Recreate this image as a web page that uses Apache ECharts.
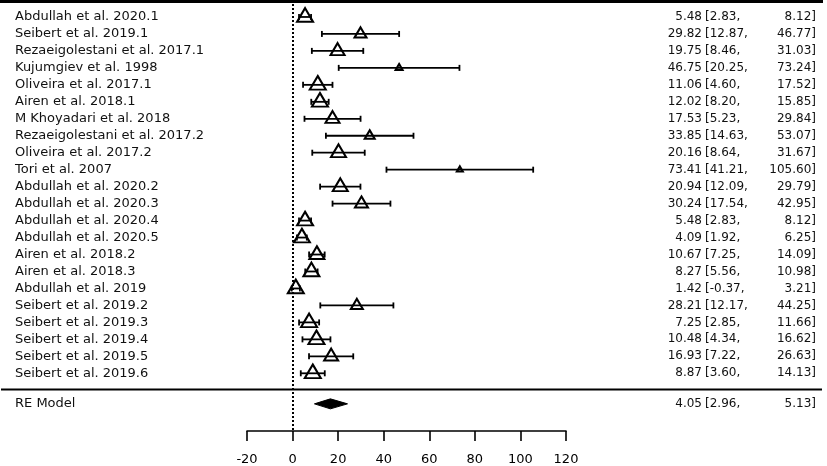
<!DOCTYPE html>
<html>
<head>
<meta charset="utf-8">
<script src="https://cdn.jsdelivr.net/npm/echarts@6/dist/echarts.min.js"></script>
<style>html,body{margin:0;padding:0;background:#fff}#c{width:827px;height:466px}</style>
</head>
<body>
<div id="c"></div>
<script>
var studies = ["Abdullah et al. 2020.1","Seibert et al. 2019.1","Rezaeigolestani et al. 2017.1","Kujumgiev et al. 1998","Oliveira et al. 2017.1","Airen et al. 2018.1","M Khoyadari et al. 2018","Rezaeigolestani et al. 2017.2","Oliveira et al. 2017.2","Tori et al. 2007","Abdullah et al. 2020.2","Abdullah et al. 2020.3","Abdullah et al. 2020.4","Abdullah et al. 2020.5","Airen et al. 2018.2","Airen et al. 2018.3","Abdullah et al. 2019","Seibert et al. 2019.2","Seibert et al. 2019.3","Seibert et al. 2019.4","Seibert et al. 2019.5","Seibert et al. 2019.6"];
var est   = [5.48,29.82,19.75,46.75,11.06,12.02,17.53,33.85,20.16,73.41,20.94,30.24,5.48,4.09,10.67,8.27,1.42,28.21,7.25,10.48,16.93,8.87];
var lower = [2.83,12.87,8.46,20.25,4.60,8.20,5.23,14.63,8.64,41.21,12.09,17.54,2.83,1.92,7.25,5.56,-0.37,12.17,2.85,4.34,7.22,3.60];
var upper = [8.12,46.77,31.03,73.24,17.52,15.85,29.84,53.07,31.67,105.60,29.79,42.95,8.12,6.25,14.09,10.98,3.21,44.25,11.66,16.62,26.63,14.13];
var weightSize = [16,12,14,7,16,16,14,10,15,6,15,13,16,16,15,16,16,12,16,16,14,16];
var reLabel = "RE Model";
var reText = [4.05, 2.96, 5.13];          // printed estimate [lower, upper]
var reDiamond = [9.6, 16.6, 24.1];        // diamond as drawn in the figure
var xTicks = [-20, 120, 20];              // min, max, interval

var reRow = 23, reDrawRow = 22.8;
var FONT = "DejaVu Sans";

var chart = echarts.init(document.getElementById('c'), null, {renderer:'canvas'});

function fmt(v){ return v.toFixed(2); }
function rowIdx(v){ var r = Math.round(v); return Math.abs(r - v) < 1e-6 ? r : null; }

var ciData = studies.map(function(s,i){ return [lower[i], upper[i], i]; });
var ptData = studies.map(function(s,i){ return [est[i], i, weightSize[i]]; });

function yAxisFor(position, margin, align, fontSize, textFn){
  return {
    type:'value', inverse:true, min:-1, max:24.4, interval:1, position:position,
    axisLine:{show:false}, axisTick:{show:false}, splitLine:{show:false},
    axisLabel:{
      align:align, margin:margin, color:'#111', fontFamily:FONT, fontSize:fontSize,
      formatter:function(v){
        var r = rowIdx(v);
        if (r === null) return '';
        if (r >= 0 && r < studies.length) return textFn(r, false);
        if (r === reRow) return '{re|' + textFn(r, true) + '}';
        return '';
      },
      rich:{re:{fontFamily:FONT, fontSize:fontSize, color:'#111', padding:[0,0,7,0]}}
    }
  };
}

var option = {
  animation:false,
  backgroundColor:'#fff',
  grid:{left:247, right:261, top:0, bottom:35, containLabel:false},
  xAxis:{
    type:'value', min:xTicks[0], max:xTicks[1], interval:xTicks[2],
    axisLine:{show:true, onZero:false, lineStyle:{color:'#000', width:1.6}},
    axisTick:{show:true, inside:false, length:10, lineStyle:{color:'#000', width:1.6}},
    axisLabel:{color:'#000', fontFamily:FONT, fontSize:13, margin:22},
    splitLine:{show:false}
  },
  yAxis:[
    yAxisFor('left', 232, 'left', 13, function(r, re){ return re ? reLabel : studies[r]; }),
    yAxisFor('right', 136, 'right', 12, function(r, re){ return fmt(re ? reText[0] : est[r]); }),
    yAxisFor('right', 139, 'left', 12, function(r, re){ return '[' + fmt(re ? reText[1] : lower[r]) + ','; }),
    yAxisFor('right', 250, 'right', 12, function(r, re){ return fmt(re ? reText[2] : upper[r]) + ']'; })
  ],
  series:[
    {
      type:'scatter', name:'est', data:ptData, z:3,
      symbol:'triangle',
      symbolSize:function(v){ return [v[2], v[2]*0.85]; },
      symbolOffset:[0,'-15%'],
      itemStyle:{color:'#fff', borderColor:'#000', borderWidth:2, opacity:1},
      markLine:{
        silent:true, symbol:'none', label:{show:false},
        lineStyle:{color:'#000', type:[2,2], width:2},
        data:[{xAxis:0}]
      }
    },
    {
      type:'custom', name:'ci', data:ciData, z:4,
      renderItem:function(params, api){
        var p1 = api.coord([api.value(0), api.value(2)]);
        var p2 = api.coord([api.value(1), api.value(2)]);
        var h = 3;
        var st = {stroke:'#000', lineWidth:1.8};
        return {type:'group', children:[
          {type:'line', shape:{x1:p1[0], y1:p1[1], x2:p2[0], y2:p2[1]}, style:st},
          {type:'line', shape:{x1:p1[0], y1:p1[1]-h, x2:p1[0], y2:p1[1]+h}, style:st},
          {type:'line', shape:{x1:p2[0], y1:p2[1]-h, x2:p2[0], y2:p2[1]+h}, style:st}
        ]};
      }
    },
    {
      type:'custom', name:'re', data:[[reDiamond[0], reDiamond[1], reDiamond[2], reDrawRow]], z:4,
      renderItem:function(params, api){
        var l = api.coord([api.value(0), api.value(3)]);
        var c = api.coord([api.value(1), api.value(3)]);
        var r = api.coord([api.value(2), api.value(3)]);
        var h = 5;
        return {type:'polygon', shape:{points:[[l[0],l[1]],[c[0],c[1]-h],[r[0],r[1]],[c[0],c[1]+h]]},
          style:{fill:'#000', stroke:'#000', lineWidth:1}};
      }
    }
  ],
  graphic:[
    {type:'line', shape:{x1:0, y1:1.5, x2:823, y2:1.5}, style:{stroke:'#000', lineWidth:3}, silent:true},
    {type:'line', shape:{x1:1, y1:389.5, x2:822, y2:389.5}, style:{stroke:'#000', lineWidth:2}, silent:true}
  ]
};
chart.setOption(option);
</script>
</body>
</html>
